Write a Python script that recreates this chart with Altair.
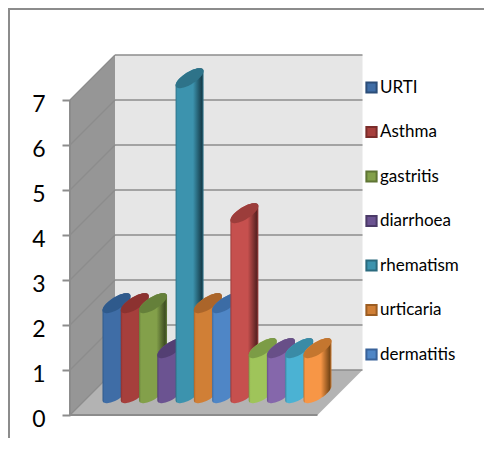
import numpy as np
import pandas as pd
import altair as alt

legend_names = ["URTI", "Asthma", "gastritis", "diarrhoea", "rhematism", "urticaria", "dermatitis"]
legend_fill = ["#3f6da6", "#a63f3c", "#83a04a", "#6b5391", "#3c93ae", "#d07f36", "#4f86c6"]
legend_edge = ["#2b4d78", "#7a2c2a", "#5f7534", "#4b3a68", "#2a6a7e", "#9c5d22", "#38629a"]
values = [2, 2, 2, 1, 7, 2, 2, 4, 1, 1, 1, 1]
body_colors = ["#3f6da6", "#a63f3c", "#83a04a", "#6b5391", "#3c93ae", "#d07f36",
               "#4f86c6", "#c6504e", "#9fc45a", "#8567ab", "#4bb2d3", "#f79646"]
top_colors = ["#2f5a8c", "#8c3230", "#65803a", "#533f73", "#2e7389", "#ab652a",
              "#3c6ca5", "#9c3d3b", "#7c9c46", "#684f88", "#3a8ba6", "#c4762f"]
dark_colors = ["#1d3654", "#551e1d", "#3e4d22", "#2f2445", "#173f4d", "#63391a",
               "#254367", "#5c2322", "#4c6029", "#3e2f52", "#235464", "#7a4817"]
ticks = list(range(8))

W, H = 476, 430
U = 45.0
X0, Y0 = 62.0, 407.0   # canvas position of the front-left floor corner
xdom = [-X0 / U, (W - X0) / U]
ydom = [(Y0 - H) / U, Y0 / U]
xs = alt.Scale(domain=xdom, nice=False, zero=False)
ys = alt.Scale(domain=ydom, nice=False, zero=False)
WALL = "#969696"
FLOOR = "#b3b3b3"
BACK = "#e6e6e6"
LINE = "#8c8c8c"
FW = 5.5  # floor width in units

y_axis = alt.Axis(values=ticks, offset=-X0, tickSize=8, tickWidth=2, tickColor=LINE,
                  domain=False, grid=False, labelFontSize=23, labelFont="Lato",
                  labelColor="#000000", labelPadding=17, labelOffset=4, format="d", title=None)


def X(f="x", **k):
    return alt.X(f"{f}:Q", scale=xs, axis=None, **k)


def Y(f="y", **k):
    return alt.Y(f"{f}:Q", scale=ys, axis=y_axis, **k)


def area(df, **mk):
    return alt.Chart(df).mark_area(orient="vertical", **mk).encode(
        x=X(), y=Y(), y2=alt.Y2("y2:Q"))


layers = []

# left wall
layers.append(area(pd.DataFrame({"x": [0, 1], "y": [7, 8], "y2": [0, 1]}), color=WALL))
# back wall
layers.append(area(pd.DataFrame({"x": [1, FW + 1], "y": [8, 8], "y2": [1, 1]}), color=BACK))
# floor
layers.append(area(pd.DataFrame({"x": [0, 1, FW, FW + 1], "y": [0, 1, 1, 1], "y2": [0, 0, 0, 1]}), color=FLOOR))
# grid lines
grid_back = pd.DataFrame({"x": 1.0, "x2": FW + 1, "y": [t + 1.0 for t in ticks], "y2": [t + 1.0 for t in ticks]})
layers.append(alt.Chart(grid_back).mark_rule(color=LINE, strokeWidth=1.6).encode(
    x=X(), x2="x2:Q", y=Y(), y2="y2:Q"))
grid_left = pd.DataFrame({"x": 0.0, "x2": 1.0, "y": [float(t) for t in ticks], "y2": [t + 1.0 for t in ticks]})
layers.append(alt.Chart(grid_left).mark_rule(color=LINE, strokeWidth=1.2).encode(
    x=X(), x2="x2:Q", y=Y(), y2="y2:Q"))
layers.append(alt.Chart(pd.DataFrame({"x": [0.0], "x2": [FW], "y": [0.0], "y2": [0.0]})).mark_rule(
    color=LINE, strokeWidth=2).encode(x=X(), x2="x2:Q", y=Y(), y2="y2:Q"))
layers.append(alt.Chart(pd.DataFrame({"x": [0.0], "x2": [0.0], "y": [0.0], "y2": [7.0]})).mark_rule(
    color=LINE, strokeWidth=2).encode(x=X(), x2="x2:Q", y=Y(), y2="y2:Q"))

# cylinders (oblique projection of a circle on the floor)
R = 14.0 / U
RD = 10.0 / U
STEP = 18.27 / U
CX0 = 46.5 / U
BASE = 0.485
phi = np.arctan2(RD, np.sqrt(R ** 2 - RD ** 2))
t = np.linspace(0, np.pi, 31)
for i, v in enumerate(values):
    cx = CX0 + i * STEP
    xx = cx + R * np.cos(t)
    upper = RD * np.sin(phi + t)
    lower = RD * np.sin(phi - t)
    grad = alt.LinearGradient(
        gradient="linear", x1=0, x2=1, y1=0, y2=0,
        stops=[
            alt.GradientStop(offset=0.0, color=top_colors[i]),
            alt.GradientStop(offset=0.07, color=body_colors[i]),
            alt.GradientStop(offset=0.62, color=body_colors[i]),
            alt.GradientStop(offset=0.93, color=dark_colors[i]),
            alt.GradientStop(offset=1.0, color=top_colors[i]),
        ],
    )
    body = pd.DataFrame({"x": xx, "y": BASE + v + upper, "y2": BASE + lower})
    layers.append(area(body, fill=grad))
    cap = pd.DataFrame({"x": xx, "y": BASE + v + upper, "y2": BASE + v + lower})
    layers.append(area(cap, color=top_colors[i]))

# legend, driven by an invisible layer
leg = pd.DataFrame({"name": legend_names, "x": 0.0, "y": 0.0})
legend = alt.Legend(title=None, orient="none", legendX=355, legendY=71, symbolType="square", symbolSize=105,
                    symbolStrokeWidth=2, symbolOpacity=1, labelFont="Lato", labelFontSize=17,
                    labelColor="#000000", labelOffset=0, rowPadding=25.5, labelLimit=130)
layers.append(
    alt.Chart(leg).mark_square(opacity=0, size=1).encode(
        x=X(), y=Y(),
        fill=alt.Fill("name:N", sort=legend_names, legend=legend,
                      scale=alt.Scale(domain=legend_names, range=legend_fill)),
        stroke=alt.Stroke("name:N", sort=legend_names, legend=legend,
                          scale=alt.Scale(domain=legend_names, range=legend_edge)),
    )
)
# outer border: only the top and left edges fall inside the picture
blank = pd.DataFrame({"a": [0]})
layers.append(alt.Chart(blank).mark_rule(color=LINE, strokeWidth=2).encode(
    x=alt.value(1), y=alt.value(0), y2=alt.value(H)))
layers.append(alt.Chart(blank).mark_rule(color=LINE, strokeWidth=2).encode(
    y=alt.value(1), x=alt.value(0), x2=alt.value(W)))

chart = alt.layer(*layers).properties(
    width=W, height=H, padding=0, autosize=alt.AutoSizeParams(type="none"), background="#ffffff"
).configure_view(stroke=None)

chart.save("out.html", embed_options={"renderer": "svg", "actions": False})
